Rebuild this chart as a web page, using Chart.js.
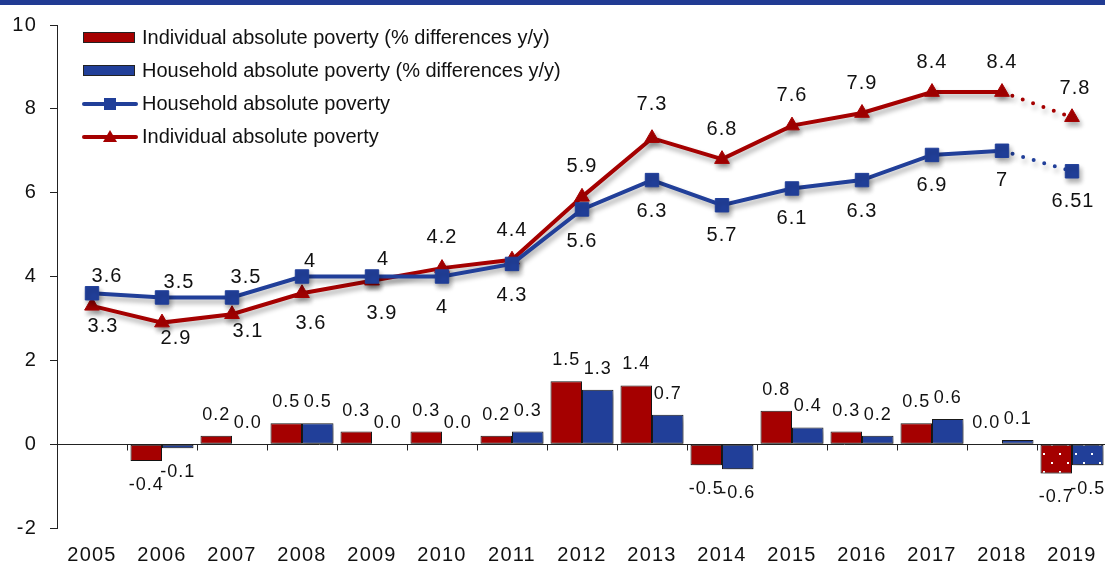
<!DOCTYPE html>
<html>
<head>
<meta charset="utf-8">
<script src="https://cdn.jsdelivr.net/npm/chart.js@4"></script>
<style>
  html, body { margin: 0; padding: 0; background: #fff; overflow: hidden; }
  #wrap { position: relative; width: 1110px; height: 564px; }
  #topBand { position: absolute; left: 0; top: 0; width: 1110px; height: 5px; background: #213b93; }
  #legend { position: absolute; left: 0; top: 0; font-family: "Liberation Sans", Arial, sans-serif; font-size: 20px; color: #111; }
  .item { position: absolute; left: 82px; height: 33px; display: flex; align-items: center; white-space: nowrap; }
  .sw { position: relative; width: 56px; height: 33px; margin-right: 4px; }
  .box { position: absolute; left: 1px; top: 11px; width: 50px; height: 9px; border: 1px solid #222; }
  .ln { position: absolute; left: 0; top: 15px; width: 56px; height: 4px; border-radius: 2px; }
  .sq { position: absolute; left: 22px; top: 11px; width: 12px; height: 12px; }
  .tri { position: absolute; left: 21px; top: 10px; width: 0; height: 0;
         border-left: 7px solid transparent; border-right: 7px solid transparent; border-bottom: 12px solid #a50000; }
</style>
</head>
<body>
<div id="wrap">
  <canvas id="povertyChart" width="1110" height="564"></canvas>
  <div id="topBand"></div>
  <div id="legend">
    <div class="item" style="top:21px"><div class="sw"><div class="box" style="background:#a50000"></div></div>Individual absolute poverty (% differences y/y)</div>
    <div class="item" style="top:54px"><div class="sw"><div class="box" style="background:#213f99"></div></div>Household absolute poverty (% differences y/y)</div>
    <div class="item" style="top:87px"><div class="sw"><div class="ln" style="background:#213f99"></div><div class="sq" style="background:#213f99"></div></div>Household absolute poverty</div>
    <div class="item" style="top:120px"><div class="sw"><div class="ln" style="background:#a50000"></div><div class="tri"></div></div>Individual absolute poverty</div>
  </div>
</div>
<script>
// years on the x axis
const years = ['2005', '2006', '2007', '2008', '2009', '2010', '2011', '2012',
  '2013', '2014', '2015', '2016', '2017', '2018', '2019'];

// year-on-year differences (bars)
const individualDiff = [null, -0.4, 0.2, 0.5, 0.3, 0.3, 0.2, 1.5, 1.4, -0.5, 0.8, 0.3, 0.5, 0.0, -0.7];
const householdDiff = [null, -0.1, 0.0, 0.5, 0.0, 0.0, 0.3, 1.3, 0.7, -0.6, 0.4, 0.2, 0.6, 0.1, -0.5];

// absolute poverty levels (lines)
const householdPoverty = [3.6, 3.5, 3.5, 4, 4, 4, 4.3, 5.6, 6.3, 5.7, 6.1, 6.3, 6.9, 7, 6.51];
const individualPoverty = [3.3, 2.9, 3.1, 3.6, 3.9, 4.2, 4.4, 5.9, 7.3, 6.8, 7.6, 7.9, 8.4, 8.4, 7.8];

// y axis ticks
const yTicks = [-2, 0, 2, 4, 6, 8, 10];

// label nudges for the line values, in pixels [dx, dy]
const householdLabelShift = [[15, -17], [17, -15], [14, -20], [8, -15], [11, -17], [0, 31], [0, 32],
  [0, 32], [0, 31], [0, 30], [0, 30], [0, 31], [0, 31], [0, 30], [1, 30]];
const individualLabelShift = [[11, 21], [14, 16], [16, 17], [9, 30], [10, 33], [0, -31], [0, -29],
  [0, -30], [0, -34], [0, -30], [0, -30], [0, -30], [0, -30], [0, -30], [3, -29]];

const RED = '#a50000';
const BLUE = '#213f99';
const TEXT = '#111';
const FONT = '"Liberation Sans", Arial, sans-serif';

// dotted fill for the last (estimated) year
function dottedPattern(color) {
  const tile = document.createElement('canvas');
  tile.width = 16;
  tile.height = 18;
  const t = tile.getContext('2d');
  t.fillStyle = color;
  t.fillRect(0, 0, 16, 18);
  t.fillStyle = '#fff';
  t.fillRect(3, 3, 2, 2);
  t.fillRect(11, 12, 2, 2);
  return t.createPattern(tile, 'repeat');
}

function barFill(color) {
  const pat = dottedPattern(color);
  return years.map((y, i) => i === years.length - 1 ? pat : color);
}

// soft drop shadow under bars and lines
const shadowPlugin = {
  id: 'shadow',
  beforeDatasetDraw(chart) {
    const c = chart.ctx;
    c.save();
    c.shadowColor = 'rgba(0,0,0,0.32)';
    c.shadowBlur = 5;
    c.shadowOffsetX = 2;
    c.shadowOffsetY = 4;
  },
  afterDatasetDraw(chart) {
    chart.ctx.restore();
  }
};

// wider letter spacing for axis text
const spacingPlugin = {
  id: 'spacing',
  beforeDraw(chart) { chart.ctx.letterSpacing = '1.2px'; },
  afterDraw(chart) { chart.ctx.letterSpacing = '0px'; }
};

// zero line with small ticks between years
const zeroLinePlugin = {
  id: 'zeroLine',
  beforeDatasetsDraw(chart) {
    const { ctx, chartArea, scales } = chart;
    const y0 = Math.round(scales.y.getPixelForValue(0)) + 0.5;
    const step = (chartArea.right - chartArea.left) / years.length;
    ctx.save();
    ctx.strokeStyle = '#222';
    ctx.lineWidth = 1;
    ctx.beginPath();
    ctx.moveTo(chartArea.left, y0);
    ctx.lineTo(chartArea.right, y0);
    for (let i = 1; i <= years.length; i++) {
      const x = Math.round(chartArea.left + i * step) + 0.5;
      ctx.moveTo(x, y0);
      ctx.lineTo(x, y0 + 6);
    }
    ctx.stroke();
    ctx.restore();
  }
};

// value labels for bars and lines
const valueLabelPlugin = {
  id: 'valueLabels',
  afterDatasetsDraw(chart) {
    const ctx = chart.ctx;
    ctx.save();
    ctx.fillStyle = TEXT;
    ctx.textAlign = 'center';
    ctx.textBaseline = 'middle';
    ctx.letterSpacing = '1px';
    chart.data.datasets.forEach((ds, di) => {
      const meta = chart.getDatasetMeta(di);
      meta.data.forEach((el, i) => {
        const v = ds.data[i];
        if (v === null || v === undefined) return;
        if (ds.type === 'bar') {
          ctx.font = '18px ' + FONT;
          const y = v >= 0 ? el.y - 21 : el.y + 24;
          ctx.fillText(v.toFixed(1), el.x, y);
        } else {
          ctx.font = '20px ' + FONT;
          const s = ds.labelShift[i];
          ctx.fillText(String(v), el.x + s[0], el.y + s[1]);
        }
      });
    });
    ctx.restore();
  }
};

// last segment of each line is dotted
const dottedTail = {
  borderDash: c => c.p1DataIndex === years.length - 1 ? [0, 11] : undefined,
  borderCapStyle: c => c.p1DataIndex === years.length - 1 ? 'round' : 'butt'
};

new Chart(document.getElementById('povertyChart'), {
  data: {
    labels: years,
    datasets: [
      {
        type: 'line',
        label: 'Household absolute poverty',
        data: householdPoverty,
        labelShift: householdLabelShift,
        borderColor: BLUE,
        backgroundColor: BLUE,
        borderWidth: 4,
        pointStyle: 'rect',
        pointRadius: 9.5,
        pointBorderWidth: 1,
        pointBackgroundColor: BLUE,
        pointBorderColor: BLUE,
        segment: dottedTail,
        order: 0
      },
      {
        type: 'line',
        label: 'Individual absolute poverty',
        data: individualPoverty,
        labelShift: individualLabelShift,
        borderColor: RED,
        backgroundColor: RED,
        borderWidth: 4,
        pointStyle: 'triangle',
        pointRadius: 8.5,
        pointBorderWidth: 1,
        pointBackgroundColor: RED,
        pointBorderColor: RED,
        segment: dottedTail,
        order: 0
      },
      {
        type: 'bar',
        label: 'Individual absolute poverty (% differences y/y)',
        data: individualDiff,
        backgroundColor: barFill(RED),
        borderColor: '#1a1a1a',
        borderWidth: c => (c.raw === 0 ? 0 : 1),
        borderSkipped: false,
        categoryPercentage: 0.9,
        barPercentage: 1.0,
        order: 1
      },
      {
        type: 'bar',
        label: 'Household absolute poverty (% differences y/y)',
        data: householdDiff,
        backgroundColor: barFill(BLUE),
        borderColor: '#1a1a1a',
        borderWidth: c => (c.raw === 0 ? 0 : 1),
        borderSkipped: false,
        categoryPercentage: 0.9,
        barPercentage: 1.0,
        order: 1
      }
    ]
  },
  options: {
    responsive: false,
    animation: false,
    layout: { autoPadding: false, padding: { top: 24, right: 3, left: 0, bottom: 0 } },
    plugins: {
      legend: { display: false },
      tooltip: { enabled: false }
    },
    scales: {
      x: {
        grid: { display: false, drawTicks: false },
        border: { display: false },
        ticks: { color: TEXT, font: { family: FONT, size: 20 }, padding: 15, maxRotation: 0 },
        afterFit: s => {
          s.height = 36;
          s.paddingLeft = 0;
          s.paddingRight = 0;
        }
      },
      y: {
        min: yTicks[0],
        max: yTicks[yTicks.length - 1],
        afterBuildTicks: s => { s.ticks = yTicks.map(v => ({ value: v })); },
        grid: { drawOnChartArea: false, drawTicks: true, tickLength: 7, color: '#222' },
        border: { display: true, color: '#222', width: 1 },
        ticks: { color: TEXT, font: { family: FONT, size: 20 }, padding: 13 },
        afterFit: s => { s.width = 57; }
      }
    }
  },
  plugins: [shadowPlugin, spacingPlugin, zeroLinePlugin, valueLabelPlugin]
});
</script>
</body>
</html>
